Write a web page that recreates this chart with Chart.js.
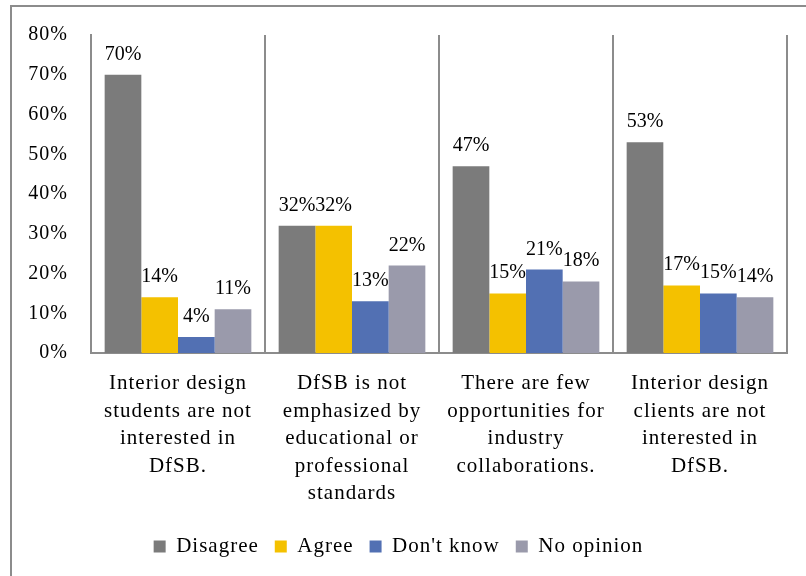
<!DOCTYPE html>
<html>
<head>
<meta charset="utf-8">
<script src="https://cdn.jsdelivr.net/npm/chart.js@4/dist/chart.umd.min.js"></script>
<style>
  html, body { margin: 0; padding: 0; background: #ffffff; }
  #wrap { position: relative; width: 806px; height: 576px; }
</style>
</head>
<body>
<div id="wrap"><canvas id="chart" width="806" height="576"></canvas></div>
<script>
// Reasons DfSB is not practised, share of responses per answer
const categories = [
  ["Interior design", "students are not", "interested in", "DfSB."],
  ["DfSB is not", "emphasized by", "educational or", "professional", "standards"],
  ["There are few", "opportunities for", "industry", "collaborations."],
  ["Interior design", "clients are not", "interested in", "DfSB."]
];
const disagree  = [70, 32, 47, 53];
const agree     = [14, 32, 15, 17];
const dontKnow  = [4, 13, 21, 15];
const noOpinion = [11, 22, 18, 14];
const seriesNames = ["Disagree", "Agree", "Don't know", "No opinion"];
const yTicks = [0, 10, 20, 30, 40, 50, 60, 70, 80];

const FONT = "'Liberation Serif', 'Times New Roman', serif";
const LINE = "#8c8c8c";
const SPACING = '1px';
const PAD_LEFT = 10;
const LEGEND_BOTTOM = 9;

// Slightly open letter spacing for axis and legend text
const spacingPlugin = {
  id: 'spacing',
  beforeLayout(chart) { chart.ctx.letterSpacing = SPACING; },
  beforeDraw(chart) { chart.ctx.letterSpacing = SPACING; }
};

// Outer frame and white backdrop
const framePlugin = {
  id: 'frame',
  beforeDraw(chart) {
    const ctx = chart.ctx;
    ctx.save();
    ctx.fillStyle = '#ffffff';
    ctx.fillRect(0, 0, chart.width, chart.height);
    ctx.strokeStyle = LINE;
    ctx.lineWidth = 2;
    ctx.beginPath();
    ctx.moveTo(chart.width + 2, 6);
    ctx.lineTo(11, 6);
    ctx.lineTo(11, chart.height + 2);
    ctx.stroke();
    ctx.restore();
  }
};

// Percentage labels above each bar
const valueLabels = {
  id: 'valueLabels',
  afterDatasetsDraw(chart) {
    const ctx = chart.ctx;
    ctx.save();
    ctx.letterSpacing = '0px';
    ctx.font = "20px " + FONT;
    ctx.fillStyle = '#000000';
    ctx.textAlign = 'center';
    ctx.textBaseline = 'alphabetic';
    chart.data.datasets.forEach((ds, i) => {
      const meta = chart.getDatasetMeta(i);
      meta.data.forEach((bar, j) => {
        ctx.fillText(ds.data[j] + '%', bar.x, bar.y - 15);
      });
    });
    ctx.restore();
  }
};

const colors = ["#7b7b7b", "#f4c100", "#5270b3", "#9a9aab"];
const values = [disagree, agree, dontKnow, noOpinion];

new Chart(document.getElementById('chart'), {
  type: 'bar',
  data: {
    labels: categories,
    datasets: seriesNames.map((name, i) => ({
      label: name,
      data: values[i],
      backgroundColor: colors[i],
      borderWidth: 0,
      categoryPercentage: 0.843,
      barPercentage: 1.0
    }))
  },
  options: {
    responsive: false,
    animation: false,
    devicePixelRatio: 1,
    layout: { padding: { left: PAD_LEFT, right: 19, top: 33, bottom: LEGEND_BOTTOM } },
    plugins: {
      legend: {
        position: 'bottom',
        labels: {
          font: { family: FONT, size: 21 },
          color: '#000000',
          boxWidth: 12,
          boxHeight: 12,
          padding: 16
        }
      },
      tooltip: { enabled: false }
    },
    scales: {
      x: {
        offset: true,
        grid: {
          display: true,
          offset: true,
          color: LINE,
          lineWidth: 2,
          drawTicks: false
        },
        border: { display: true, color: LINE, width: 2 },
        ticks: {
          font: { family: FONT, size: 21, lineHeight: 1.31 },
          color: '#000000',
          maxRotation: 0,
          minRotation: 0,
          autoSkip: false,
          padding: 17
        },
        afterFit(scale) {
          const legendH = scale.chart.legend ? scale.chart.legend.height : 0;
          scale.height = 576 - LEGEND_BOTTOM - legendH - 353;
        }
      },
      y: {
        min: 0,
        max: 80,
        afterBuildTicks(scale) {
          scale.ticks = yTicks.map(v => ({ value: v }));
        },
        grid: { display: false, drawTicks: false },
        border: { display: true, color: LINE, width: 2 },
        ticks: {
          font: { family: FONT, size: 20 },
          color: '#000000',
          padding: 23,
          callback: v => v + '%'
        },
        afterFit(scale) { scale.width = 91 - PAD_LEFT; }
      }
    }
  },
  plugins: [spacingPlugin, framePlugin, valueLabels]
});
</script>
</body>
</html>
